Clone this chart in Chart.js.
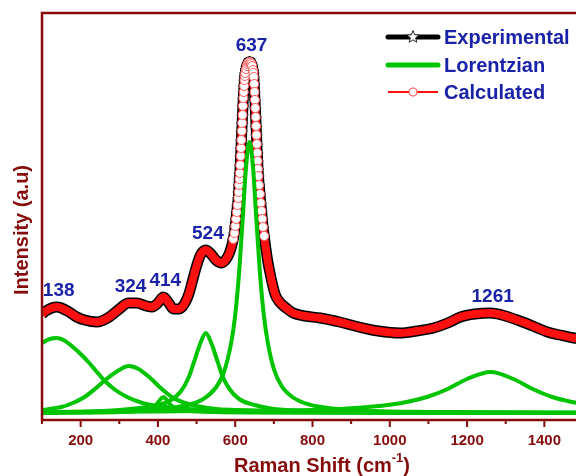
<!DOCTYPE html>
<html>
<head>
<meta charset="utf-8">
<script src="https://cdn.jsdelivr.net/npm/chart.js@4.4.1/dist/chart.umd.min.js"></script>
<style>
  html, body { margin: 0; padding: 0; width: 576px; height: 476px; overflow: hidden; background: #fff; }
  #wrap { position: absolute; left: 0; top: 0; width: 600px; height: 476px; }
</style>
</head>
<body>
<div id="wrap"><canvas id="raman"></canvas></div>
<script>
// Raman shift axis samples (cm^-1) for the measured / fitted spectrum
const ramanShift = [100,110,125,138,150,170,190,210,242,270,300,324,345,370,385,400,414,428,440,455,470,480,490,500,510,524,535,550,565,575,585,590,595,598,600,602,604,606,608,609,610,611,612,613,614,615,616,617,618,619,620,621,622,623,624,625,626,628,630,632,634,637,640,642,644,646,647,648,649,650,651,652,653,654,655,656,657,658,659,660,662,664,666,668,670,672,675,678,681,685,690,695,700,705,711,717,735,750,780,820,870,920,970,1027,1070,1113,1150,1183,1220,1261,1290,1330,1370,1408,1440,1476,1500];
const experimental = [99,102,105,106,105,101,96,93,91,95,104,110,110,107,106,110,116,110,104,104,110,119,133,147,158,163,160,153,150,153,160,166,174,180,187,194,201,208,215,221,228,234,240,248,257,265,273,282,290,298,307,315,321,327,333,337,340,344,347,349,350.5,351,350.5,349,347,343,340,336,329,321,313,305,296,287,278,269,260,252,244,237,228,219,210,202,194,186,177,168,160,150,140,131,123,117,113,110,104,100,97,95,91,86,82,80,82,85,90,96,99,100,98,93,87,81,78,75,74];
const calculated   = [99,102,105,106,105,101,96,93,91,95,104,110,110,107,106,110,116,110,104,104,110,119,133,147,158,163,160,153,150,153,160,166,174,180,187,194,201,208,215,221,228,234,240,248,257,265,273,282,290,298,307,315,321,327,333,337,340,344,347,349,350.5,351,350.5,349,347,343,340,336,329,321,313,305,296,287,278,269,260,252,244,237,228,219,210,202,194,186,177,168,160,150,140,131,123,117,113,110,104,100,97,95,91,86,82,80,82,85,90,96,99,100,98,93,87,81,78,75,74];

// Individual Lorentzian bands
const band138Shift = [100,120,138,160,180,200,220,240,260,290,320,360,400,450,500,600,800,1000,1500];
const band138Int   = [70,74,75,72,66,59,51,42,33,23,16,10,7,5,3.5,2,1,0.5,0];
const band324Shift = [100,150,180,210,240,270,300,324,350,380,410,440,470,500,550,600,700,900,1500];
const band324Int   = [3,6,10,16,25,35,43,47,44,35,24,15,10,7,4,3,1.5,0.5,0];
const band414Shift = [100,300,350,380,395,405,414,423,433,448,480,550,800,1500];
const band414Int   = [0,1,2,4,8,13,16,13,8,4,2,1,0.3,0];
const band524Shift = [100,200,300,400,430,460,480,495,510,524,538,553,568,585,610,650,700,800,1000,1500];
const band524Int   = [0.5,1,3,8,12,22,36,53,70,80,70,53,36,24,14,8,4,2,1,0.5];
const band637Shift = [100,300,400,440,480,520,550,570,590,600,610,620,628,637,646,654,664,674,684,700,720,750,790,840,940,1100,1300,1500];
const band637Int   = [0.7,1.9,3.7,5.4,8.3,14.7,25.5,40,71,98,140,198,246,271,246,198,140,98,71,44,27,15.5,8.6,5,2.3,1,0.5,0.3];
const band1261Shift = [100,400,600,800,900,1000,1050,1100,1150,1200,1261,1320,1370,1420,1460,1500];
const band1261Int   = [1,1.5,2.5,3,4.8,8.3,11.5,16.5,24,34,41,34,24,16,12,9];

// Peak positions annotated above the spectrum
const peakLabels = [138, 324, 414, 524, 637, 1261];

// Axis range and tick spacing
const xMin = 100, xMax = 1500, majorStep = 200, minorStep = 100;
const yMin = -7, yMax = 400;

const MAROON = '#860c0c';
const BLUE = '#1a22a8';
const GREEN = '#00c400';
const RED = '#ff1010';
const FONT = "'Liberation Sans', Arial, sans-serif";

const pairs = (xs, ys) => xs.map((x, i) => ({ x, y: ys[i] }));
const steep = c => (c.parsed && c.parsed.y > 170);

const bands = [
  [band138Shift, band138Int], [band324Shift, band324Int], [band414Shift, band414Int],
  [band524Shift, band524Int], [band637Shift, band637Int], [band1261Shift, band1261Int]
].map(([xs, ys], i) => ({
  label: i === 0 ? 'Lorentzian' : 'Lorentzian ' + (i + 1),
  data: pairs(xs, ys),
  borderColor: GREEN,
  borderWidth: 4,
  pointRadius: 0,
  cubicInterpolationMode: 'monotone',
  order: 0
}));

// five-pointed star used as the legend symbol
function starPath(ctx, cx, cy, outer, inner) {
  ctx.beginPath();
  for (let k = 0; k < 10; k++) {
    const r = k % 2 === 0 ? outer : inner;
    const ang = -Math.PI / 2 + k * Math.PI / 5;
    const px = cx + r * Math.cos(ang), py = cy + r * Math.sin(ang);
    if (k === 0) ctx.moveTo(px, py); else ctx.lineTo(px, py);
  }
  ctx.closePath();
}

const decorations = {
  id: 'decorations',
  afterDraw(chart) {
    const { ctx, chartArea: a, scales: { x } } = chart;
    ctx.save();
    // frame: left, top, bottom
    ctx.strokeStyle = MAROON;
    ctx.lineWidth = 2.5;
    ctx.beginPath();
    ctx.moveTo(a.right + 5, a.top);
    ctx.lineTo(a.left, a.top);
    ctx.lineTo(a.left, a.bottom);
    ctx.lineTo(a.right + 5, a.bottom);
    ctx.stroke();
    // tick marks, pointing out of the plot
    ctx.lineWidth = 2;
    for (let v = xMin; v <= xMax; v += minorStep) {
      const px = x.getPixelForValue(v);
      const len = v % majorStep === 0 ? 7 : 4;
      ctx.beginPath();
      ctx.moveTo(px, a.bottom);
      ctx.lineTo(px, a.bottom + len);
      ctx.stroke();
    }
    // peak position labels
    const meta = chart.getDatasetMeta(0);
    ctx.fillStyle = BLUE;
    ctx.font = 'bold 19px ' + FONT;
    ctx.textAlign = 'center';
    ctx.textBaseline = 'middle';
    peakLabels.forEach(p => {
      let best = 0;
      ramanShift.forEach((s, i) => { if (Math.abs(s - p) < Math.abs(ramanShift[best] - p)) best = i; });
      const pt = meta.data[best];
      ctx.fillText(String(p), x.getPixelForValue(p) + 2, pt.y - 16);
    });
    // axis titles
    ctx.fillStyle = MAROON;
    ctx.font = 'bold 20px ' + FONT;
    ctx.save();
    ctx.translate(22, 230);
    ctx.rotate(-Math.PI / 2);
    ctx.fillText('Intensity (a.u)', 0, 0);
    ctx.restore();
    const main = 'Raman Shift (cm', sup = '-1', tail = ')';
    ctx.font = 'bold 20px ' + FONT;
    const w1 = ctx.measureText(main).width, w3 = ctx.measureText(tail).width;
    ctx.font = 'bold 13px ' + FONT;
    const w2 = ctx.measureText(sup).width;
    const tx = 322 - (w1 + w2 + w3) / 2;
    const ty = 466;
    ctx.textAlign = 'left';
    ctx.font = 'bold 20px ' + FONT;
    ctx.fillText(main, tx, ty);
    ctx.font = 'bold 13px ' + FONT;
    ctx.fillText(sup, tx + w1, ty - 8);
    ctx.font = 'bold 20px ' + FONT;
    ctx.fillText(tail, tx + w1 + w2, ty);
    // legend
    const rows = [
      { text: 'Experimental', y: 37 },
      { text: 'Lorentzian', y: 65 },
      { text: 'Calculated', y: 92 }
    ];
    const lx0 = 388, lx1 = 438, lxm = 413;
    ctx.lineCap = 'round';
    ctx.strokeStyle = '#000'; ctx.lineWidth = 5;
    ctx.beginPath(); ctx.moveTo(lx0, rows[0].y); ctx.lineTo(lx1, rows[0].y); ctx.stroke();
    ctx.lineCap = 'butt';
    starPath(ctx, lxm, rows[0].y, 6.5, 2.8);
    ctx.fillStyle = '#fff'; ctx.fill();
    ctx.strokeStyle = '#222'; ctx.lineWidth = 1; ctx.stroke();
    ctx.lineCap = 'round';
    ctx.strokeStyle = GREEN; ctx.lineWidth = 5;
    ctx.beginPath(); ctx.moveTo(lx0, rows[1].y); ctx.lineTo(lx1, rows[1].y); ctx.stroke();
    ctx.lineCap = 'butt';
    ctx.strokeStyle = RED; ctx.lineWidth = 2;
    ctx.beginPath(); ctx.moveTo(lx0, rows[2].y); ctx.lineTo(lx1, rows[2].y); ctx.stroke();
    ctx.fillStyle = '#fff'; ctx.strokeStyle = '#ff5050'; ctx.lineWidth = 1.2;
    ctx.beginPath(); ctx.arc(lxm, rows[2].y, 4, 0, Math.PI * 2); ctx.fill(); ctx.stroke();
    ctx.fillStyle = BLUE;
    ctx.font = 'bold 20px ' + FONT;
    ctx.textAlign = 'left';
    ctx.textBaseline = 'middle';
    rows.forEach(r => ctx.fillText(r.text, 444, r.y + 1));
    ctx.restore();
  }
};

new Chart(document.getElementById('raman'), {
  type: 'line',
  data: {
    datasets: [
      {
        label: 'Calculated',
        data: pairs(ramanShift, calculated),
        borderColor: RED,
        borderWidth: 8,
        cubicInterpolationMode: 'monotone',
        pointStyle: 'circle',
        pointRadius: c => steep(c) ? 4.5 : 0,
        pointBackgroundColor: '#fff',
        pointBorderColor: '#ff5a5a',
        pointBorderWidth: 1,
        order: 1
      },
      {
        label: 'Experimental',
        data: pairs(ramanShift, experimental),
        borderColor: '#000',
        borderWidth: 11,
        cubicInterpolationMode: 'monotone',
        pointStyle: 'star',
        pointRadius: c => steep(c) ? 6 : 0,
        pointBorderColor: '#000',
        pointBorderWidth: 1.2,
        order: 2
      },
      ...bands
    ]
  },
  options: {
    responsive: true,
    maintainAspectRatio: false,
    animation: false,
    devicePixelRatio: 1,
    layout: { padding: { left: 42, top: 13, right: 17, bottom: 0 } },
    plugins: { legend: { display: false }, tooltip: { enabled: false } },
    events: [],
    scales: {
      x: {
        type: 'linear',
        min: xMin,
        max: xMax,
        border: { display: false },
        grid: { display: true, drawOnChartArea: false, drawTicks: true, tickLength: 7, color: 'rgba(0,0,0,0)' },
        ticks: {
          stepSize: minorStep,
          autoSkip: false,
          maxRotation: 0,
          padding: 5,
          color: MAROON,
          font: { family: FONT, size: 15, weight: 'bold' },
          callback: v => (v % majorStep === 0 ? String(v) : '')
        },
        afterFit: s => { s.height = 56; }
      },
      y: {
        display: false,
        min: yMin,
        max: yMax
      }
    }
  },
  plugins: [decorations]
});
</script>
</body>
</html>
